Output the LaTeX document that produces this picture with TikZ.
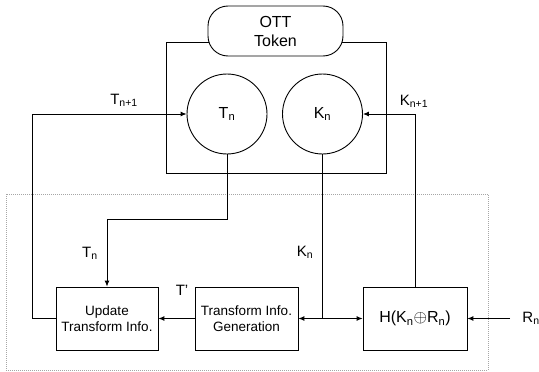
\documentclass[tikz,border=0pt]{standalone}
\usepackage{fontspec}
\setmainfont{Liberation Sans}
\usetikzlibrary{arrows.meta}
\newcommand{\sbs}[1]{\textsubscript{#1}}
\begin{document}
\begin{tikzpicture}[x=1pt,y=-1pt,line width=0.9pt,
  arr/.style={-{Latex[length=6pt,width=5pt]}},
  blk/.style={draw,line width=0.8pt,minimum width=#1,minimum height=63pt,inner sep=0pt,align=center,font=\fontsize{13.5}{16}\selectfont},
  circ/.style={draw,circle,minimum size=80pt,inner sep=0pt,font=\fontsize{16}{18}\selectfont},
  lbl/.style={font=\fontsize{15}{17}\selectfont,inner sep=0pt}]
\useasboundingbox (0,0) rectangle (539,372);
% dotted enclosure
\draw[gray!70,line width=0.6pt,dash pattern=on 1pt off 1pt] (6,194) rectangle (488,370);
% outer token frame
\draw (166,42) rectangle (386,173);
\node[draw,fill=white,rounded corners=20pt,minimum width=135pt,minimum height=50pt,inner sep=0pt,align=center,font=\fontsize{16}{19}\selectfont] (tok) at (275.5,31) {OTT\\Token};
\node[circ] (tn) at (227,114) {T\sbs{n}};
\node[circ] (kn) at (322.5,114) {K\sbs{n}};
% blocks
\node[blk=102pt] (upd) at (107,318.5) {Update\\Transform Info.};
\node[blk=103pt] (gen) at (246.5,318.5) {Transform Info.\\Generation};
\node[blk=104pt,font=\fontsize{16}{18}\selectfont] (h) at (415,318.5) {H(K\sbs{n}$\oplus$R\sbs{n})};
% connectors
\coordinate (fl) at (32,0);
\draw[arr] (upd.west) -| (fl |- tn.west) -- (tn.west);
\coordinate (tb) at (0,219);
\draw[arr] (tn.south) -- (tn.south |- tb) -| (upd.north);
\coordinate (kj) at (kn.south |- gen.east);
\draw (kn.south) -- (kj);
\draw[arr] (kj) -- (gen.east);
\draw[arr] (kj) -- (h.west);
\draw[arr] (gen.west) -- (upd.east);
\draw[arr] (h.north) -- (h.north |- kn.east) -- (kn.east);
\coordinate (rin) at (510,318.5);
\draw[arr] (rin) -- (h.east);
% labels
\node[lbl] (ltn1) at (124,100) {T\sbs{n+1}};
\node[lbl] (lkn1) at (414,101) {K\sbs{n+1}};
\node[lbl] (ltn) at (90,253) {T\sbs{n}};
\node[lbl] (lkn) at (305,252) {K\sbs{n}};
\node[lbl] (ltp) at (182,290) {T'};
\node[lbl,anchor=west] (lrn) at (522,318.5) {R\sbs{n}};
\end{tikzpicture}
\end{document}
